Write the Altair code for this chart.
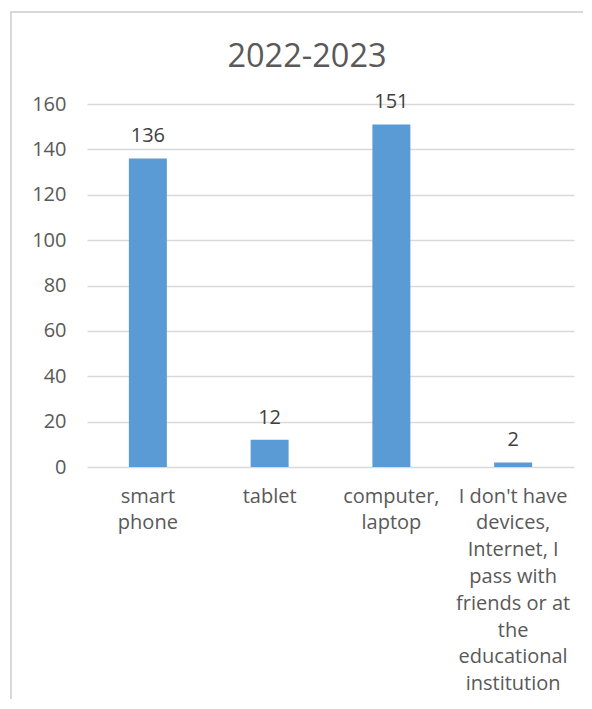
import altair as alt
import pandas as pd

categories = [
    "smart\nphone",
    "tablet",
    "computer,\nlaptop",
    "I don't have\ndevices,\nInternet, I\npass with\nfriends or at\nthe\neducational\ninstitution",
]
values = [136, 12, 151, 2]
title_text = "2022-2023"
y_ticks = [0, 20, 40, 60, 80, 100, 120, 140, 160]

df = pd.DataFrame({"category": categories, "value": values})

FONT = "Open Sans"
GREY = "#595959"

x_enc = alt.X(
    "category:N",
    sort=categories,
    title=None,
    scale=alt.Scale(paddingInner=0.688, paddingOuter=0.344),
    axis=alt.Axis(
        labelAngle=0,
        labelExpr="split(datum.label, '\\n')",
        labelFont=FONT,
        labelFontSize=20,
        labelColor=GREY,
        labelLineHeight=26.8,
        labelPadding=19,
        labelBaseline="top",
        labelLimit=300,
        domain=False,
        ticks=False,
        grid=False,
    ),
)
y_enc = alt.Y(
    "value:Q",
    title=None,
    scale=alt.Scale(domain=[0, 160], nice=False),
    axis=alt.Axis(
        values=y_ticks,
        labelFont=FONT,
        labelFontSize=20,
        labelColor=GREY,
        labelPadding=21,
        domain=False,
        ticks=False,
        gridColor="#d9d9d9",
        gridWidth=1.5,
    ),
)

base = alt.Chart(df)

bars = base.mark_bar(color="#5B9BD5").encode(x=x_enc, y=y_enc)

labels = base.mark_text(
    font=FONT, fontSize=20, color="#404040", baseline="alphabetic", dy=-16
).encode(x=alt.X("category:N", sort=categories), y="value:Q", text="value:Q")

frame_df = pd.DataFrame({"t": [title_text]})
border = alt.Chart(frame_df).mark_rect(
    fill=None, stroke="#d9d9d9", strokeWidth=2
).encode(
    x=alt.value(-76), x2=alt.value(700), y=alt.value(-92), y2=alt.value(900)
)
title = alt.Chart(frame_df).mark_text(
    font=FONT, fontSize=32.5, color=GREY, baseline="alphabetic", align="center"
).encode(x=alt.value(220), y=alt.value(-37), text="t:N")

chart = (
    alt.layer(border, bars, labels, title)
    .properties(
        width=487,
        height=363,
        padding={"left": 79, "top": 96, "right": 9, "bottom": 232},
        autosize=alt.AutoSizeParams(type="none"),
        background="white",
    )
    .configure_view(stroke=None)
)

chart.save("out.html", embed_options={"renderer": "svg", "actions": False})
